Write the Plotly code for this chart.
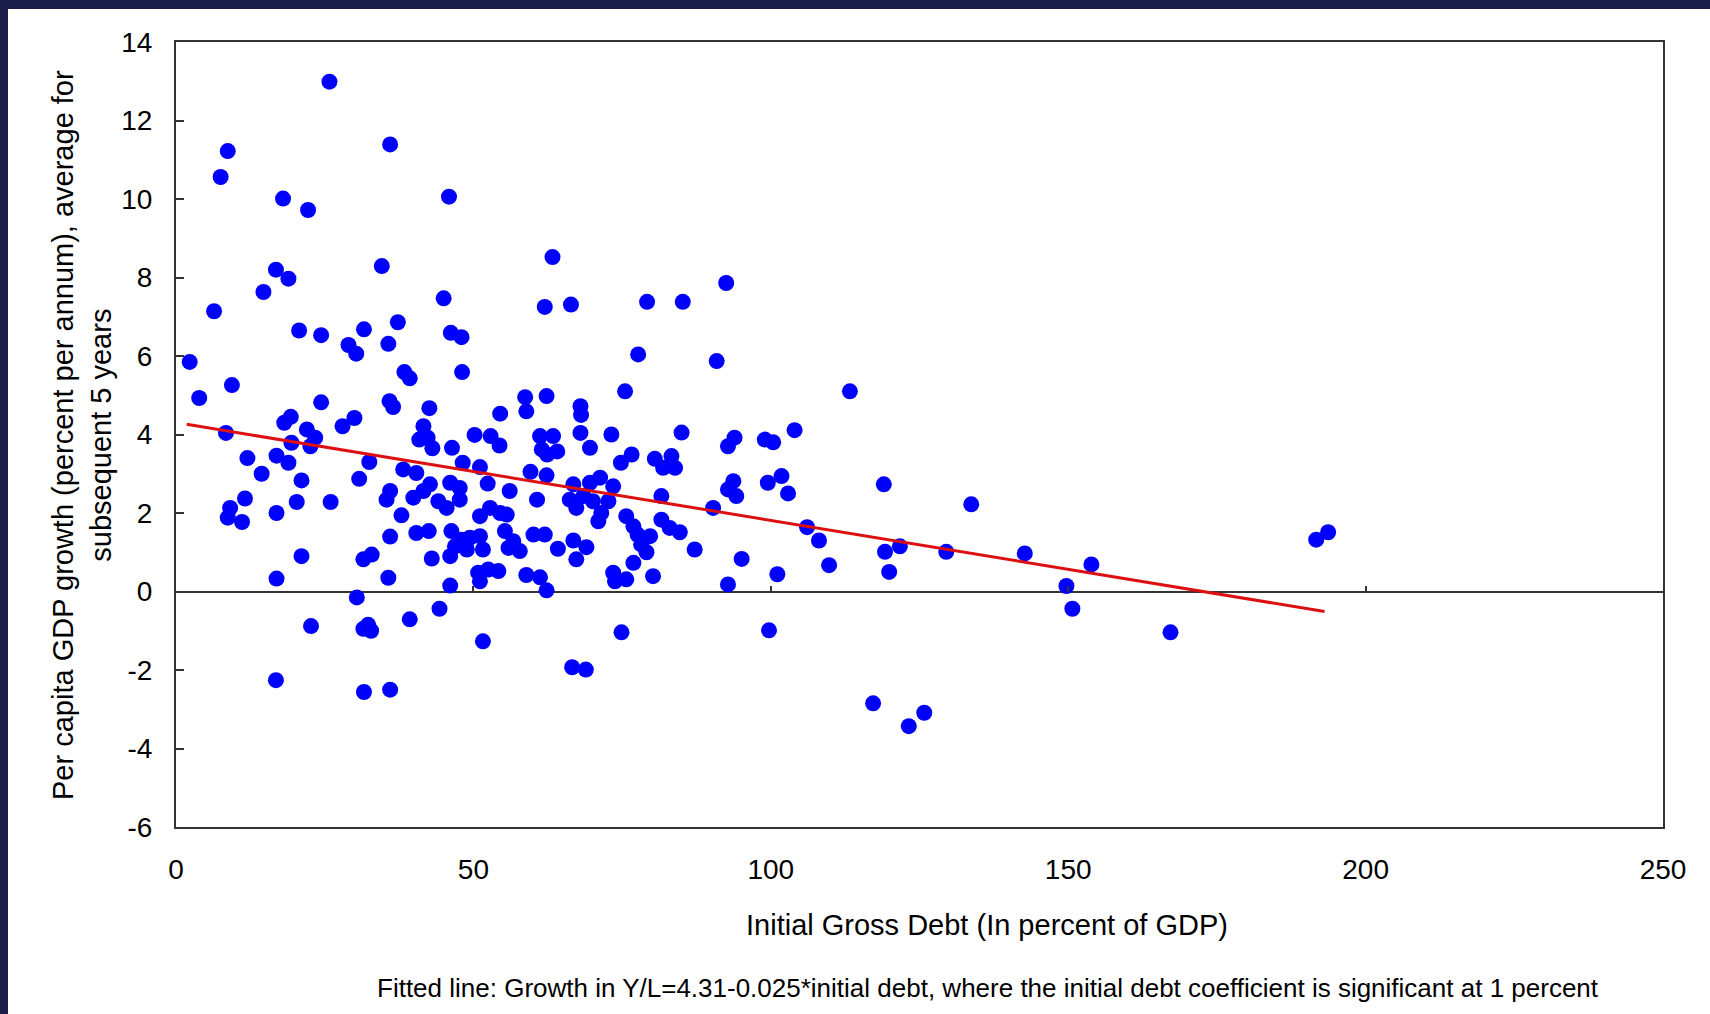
import plotly.graph_objects as go

# Initial gross debt (% of GDP) and subsequent 5-year per-capita growth (% p.a.)
debt = [
    25.8, 8.7, 7.5, 36.0, 18.0, 22.2, 45.9, 16.8, 18.9, 14.7, 6.4, 34.6, 45.0, 63.3, 62.0, 66.4,
    20.7, 24.4, 31.6, 37.3, 46.2, 48.0, 29.0, 30.3, 35.7, 2.3, 9.4, 38.4, 39.3, 48.1, 79.2, 85.2,
    92.5, 77.7, 90.9, 75.5, 113.3,
    3.9, 24.4, 35.9, 36.5, 42.6, 58.7, 58.9, 62.3, 54.5, 68.0, 68.1, 18.2, 19.3, 28.0, 30.0, 8.4,
    22.0, 23.4, 22.6, 19.4, 41.6, 40.9, 42.3, 43.1, 46.4, 50.2, 52.9, 54.4, 61.2, 63.4, 61.5, 64.1,
    62.4, 68.0, 69.6, 73.2, 85.0, 92.8, 93.9, 99.0, 100.4, 104.0,
    12.0, 16.9, 18.9, 14.4, 21.1, 32.5, 30.8, 38.2, 40.4, 48.2, 51.1, 59.6, 62.3, 52.4, 56.1, 74.8,
    76.6, 80.5, 83.3, 81.9, 83.9, 66.8, 69.6, 71.3, 73.5, 93.7, 92.8, 99.5, 101.8, 102.9, 119.0,
    36.0, 35.4, 37.9, 39.9, 41.6, 42.7, 44.1, 45.5, 46.1, 47.7, 47.7, 11.6, 9.1, 8.7, 11.1, 16.9,
    20.3, 26.0, 51.1, 52.8, 54.5, 55.6, 60.7, 66.2, 68.5, 70.1, 72.7, 67.3, 71.5, 71.0, 81.6, 75.7,
    76.9, 81.6, 83.0, 84.7, 90.3, 94.2, 106.1, 133.7, 36.0, 40.4, 42.5, 46.3, 55.3,
    48.0, 49.4, 51.1, 46.9, 48.9, 46.1, 51.6, 56.7, 55.9, 57.8, 60.1, 62.0, 64.2, 66.8, 69.0, 67.3,
    77.6, 78.2, 79.7, 79.1, 87.2, 76.9, 108.1, 109.8, 119.2, 121.7, 129.5, 142.7, 153.9, 191.7,
    193.7, 21.1, 31.5, 32.9, 43.0, 95.1,
    16.9, 35.7, 46.1, 50.8, 52.5, 54.2, 51.1, 58.9, 61.2, 62.3, 73.5, 73.8, 75.7, 80.2, 92.8, 101.1,
    119.9, 149.7,
    30.4, 22.7, 31.5, 32.3, 32.8, 39.3, 44.3, 51.6, 66.6, 68.9, 16.8, 31.6, 36.0, 74.9, 99.7, 117.2,
    125.8, 123.2, 150.7, 167.2,
]
growth = [
    12.99, 11.22, 10.56, 11.39, 10.01, 9.72, 10.06, 8.20, 7.97, 7.63, 7.14, 8.29, 7.47, 8.52, 7.25, 7.31,
    6.65, 6.53, 6.68, 6.86, 6.59, 6.48, 6.28, 6.06, 6.31, 5.85, 5.26, 5.59, 5.43, 5.59, 7.38, 7.38,
    7.86, 6.04, 5.87, 5.10, 5.10,
    4.93, 4.82, 4.85, 4.70, 4.67, 4.95, 4.59, 4.98, 4.53, 4.72, 4.50, 4.30, 4.45, 4.21, 4.42, 4.04,
    4.13, 3.92, 3.70, 3.79, 4.21, 3.87, 3.92, 3.65, 3.66, 3.99, 3.96, 3.72, 3.96, 3.96, 3.62, 3.57,
    3.49, 4.04, 3.66, 4.00, 4.05, 3.70, 3.92, 3.87, 3.80, 4.11,
    3.40, 3.46, 3.28, 3.00, 2.83, 3.30, 2.87, 3.11, 3.02, 3.28, 3.17, 3.05, 2.96, 2.75, 2.56, 3.28,
    3.49, 3.38, 3.45, 3.15, 3.15, 2.73, 2.77, 2.90, 2.68, 2.81, 2.60, 2.77, 2.94, 2.50, 2.73,
    2.56, 2.34, 1.94, 2.39, 2.56, 2.73, 2.30, 2.13, 2.77, 2.64, 2.34, 2.37, 2.13, 1.88, 1.77, 2.00,
    2.28, 2.28, 1.92, 2.13, 2.00, 1.96, 2.34, 2.34, 2.43, 2.30, 2.30, 2.13, 2.00, 1.79, 2.43, 1.92,
    1.66, 1.83, 1.62, 1.51, 2.13, 2.43, 1.64, 2.22, 1.40, 1.49, 1.54, 1.54, 1.54,
    1.32, 1.37, 1.41, 1.15, 1.07, 0.90, 1.07, 1.28, 1.11, 1.03, 1.45, 1.45, 1.09, 1.30, 1.13, 0.82,
    1.45, 1.20, 1.41, 1.00, 1.07, 0.73, 1.30, 0.67, 1.01, 1.15, 1.01, 0.97, 0.69, 1.32,
    1.51, 0.90, 0.82, 0.94, 0.84, 0.83,
    0.33, 0.35, 0.15, 0.48, 0.56, 0.52, 0.26, 0.42, 0.36, 0.03, 0.48, 0.26, 0.31, 0.39, 0.18, 0.44,
    0.50, 0.14,
    -0.15, -0.88, -0.95, -0.85, -1.00, -0.71, -0.44, -1.27, -1.93, -1.99, -2.26, -2.56, -2.50, -1.04, -0.99, -2.85,
    -3.09, -3.43, -0.44, -1.04,
]

# Fitted line endpoints as drawn
fit_x = [1.8, 193.1]
fit_y = [4.26, -0.51]

y_ticks = [-6, -4, -2, 0, 2, 4, 6, 8, 10, 12, 14]
y_tick_labels = ["-6", "-4", "-2", "0", "2", "4", "6", "8", "10", "12", "14"]
x_ticks = [0, 50, 100, 150, 200, 250]
x_tick_labels = ["0", "50", "100", "150", "200", "250"]

x_title = "Initial Gross Debt (In percent of GDP)"
y_title = "Per capita GDP growth (percent per annum), average for<br>subsequent 5 years"
footnote = "Fitted line: Growth in Y/L=4.31-0.025*initial debt, where the initial debt coefficient is significant at 1 percent"

FONT = "Liberation Sans, Arial, sans-serif"
W, H = 1710, 1014
L, R, T, B = 176, 47, 42, 187
PW, PH = W - L - R, H - T - B


def px_x(p):
    return (p - L) / PW


def px_y(p):
    return (H - B - p) / PH


fig = go.Figure()
fig.add_trace(go.Scatter(
    x=debt, y=growth, mode="markers",
    marker=dict(color="#0000ff", size=16, line=dict(width=0)),
    showlegend=False, hoverinfo="x+y",
))
fig.add_trace(go.Scatter(
    x=fit_x, y=fit_y, mode="lines",
    line=dict(color="#dc1010", width=3),
    showlegend=False, hoverinfo="skip",
))
# keeps the overlaid zero-line tick axis alive
fig.add_trace(go.Scatter(x=[None], y=[None], xaxis="x2", showlegend=False, hoverinfo="skip"))

navy = "#191d48"
fig.update_layout(
    width=W, height=H,
    margin=dict(l=L, r=R, t=T, b=B, autoexpand=False),
    paper_bgcolor="white", plot_bgcolor="white",
    font=dict(family=FONT, color="black"),
    xaxis=dict(
        range=[0, 250], tickvals=x_ticks, ticktext=x_tick_labels,
        showgrid=False, zeroline=False, ticks="",
        showline=True, linecolor="#333333", linewidth=2, mirror=True,
        tickfont=dict(size=28, family=FONT, color="black"),
        ticklabelstandoff=16,
    ),
    xaxis2=dict(
        overlaying="x", anchor="free", position=0.3, side="bottom",
        range=[0, 250], tickvals=[50, 100, 150, 200],
        ticks="inside", ticklen=6, tickwidth=1.5, tickcolor="#333333",
        showticklabels=False, showline=False, showgrid=False, zeroline=False,
    ),
    yaxis=dict(
        range=[-6, 14], tickvals=y_ticks, ticktext=y_tick_labels,
        showgrid=False, zeroline=True, zerolinecolor="#333333", zerolinewidth=2,
        ticks="inside", ticklen=8, tickwidth=2, tickcolor="#333333",
        showline=True, linecolor="#333333", linewidth=2, mirror=True,
        tickfont=dict(size=28, family=FONT, color="black"),
        ticklabelstandoff=16,
    ),
    shapes=[
        dict(type="rect", xref="paper", yref="paper", layer="below",
             x0=px_x(0), x1=px_x(W), y0=px_y(9), y1=px_y(0),
             fillcolor=navy, line=dict(width=0)),
        dict(type="rect", xref="paper", yref="paper", layer="below",
             x0=px_x(0), x1=px_x(8), y0=px_y(H), y1=px_y(0),
             fillcolor=navy, line=dict(width=0)),
    ],
    annotations=[
        dict(text=x_title, xref="paper", yref="paper", x=px_x(987), y=px_y(925),
             xanchor="center", yanchor="middle", showarrow=False,
             font=dict(size=29, family=FONT, color="black")),
        dict(text=footnote, xref="paper", yref="paper", x=px_x(988), y=px_y(988),
             xanchor="center", yanchor="middle", showarrow=False,
             font=dict(size=26, family=FONT, color="black")),
        dict(text=y_title, xref="paper", yref="paper", x=px_x(82), y=px_y(435),
             xanchor="center", yanchor="middle", showarrow=False, textangle=-90,
             font=dict(size=29, family=FONT, color="black")),
    ],
)

fig.write_html(
    "out.html",
    config={"displayModeBar": False},
    post_script=(
        "document.body.style.margin='0';"
        "document.body.style.overflow='hidden';"
        "document.documentElement.style.overflow='hidden';"
    ),
)
